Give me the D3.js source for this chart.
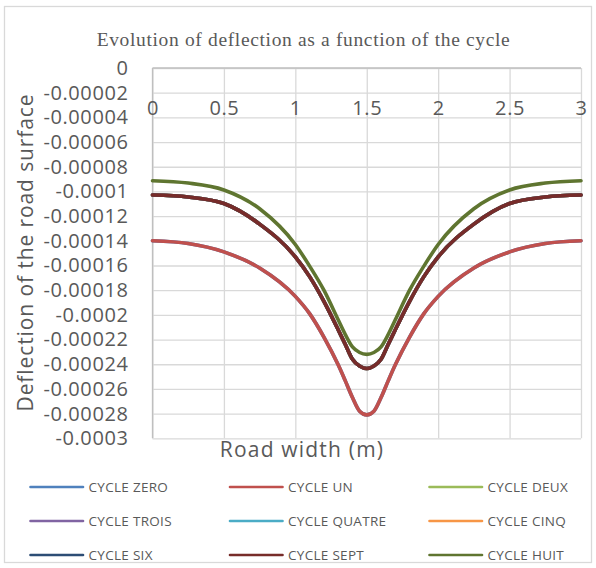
<!DOCTYPE html>
<html>
<head>
<meta charset="utf-8">
<script src="https://cdn.jsdelivr.net/npm/d3@7"></script>
<style>
  body { margin: 0; background: #fff; }
  svg { display: block; }
</style>
</head>
<body>
<svg id="chart" width="596" height="568"></svg>
<script>
// data (deflection in m, road width in m)
const widths = [0, 0.25, 0.5, 0.75, 1, 1.1, 1.2, 1.3, 1.35, 1.4, 1.45, 1.5, 1.55, 1.6, 1.65, 1.7, 1.8, 1.9, 2, 2.25, 2.5, 2.75, 3];

const cycleZero = [-0.00014, -0.0001422, -0.000149, -0.000162, -0.000185, -0.000199, -0.000218, -0.0002405, -0.0002535, -0.000267, -0.000278, -0.000281, -0.000278, -0.000267, -0.0002535, -0.0002405, -0.000218, -0.000199, -0.000185, -0.000162, -0.000149, -0.0001422, -0.00014];
const cycleUn = [-0.00014, -0.0001422, -0.000149, -0.000162, -0.000185, -0.000199, -0.000218, -0.0002405, -0.0002535, -0.000267, -0.000278, -0.000281, -0.000278, -0.000267, -0.0002535, -0.0002405, -0.000218, -0.000199, -0.000185, -0.000162, -0.000149, -0.0001422, -0.00014];
const cycleDeux = [-0.0001029, -0.0001045, -0.0001098, -0.0001265, -0.000153, -0.000169, -0.000189, -0.000212, -0.000224, -0.000236, -0.0002415, -0.0002435, -0.0002415, -0.000236, -0.000224, -0.000212, -0.000189, -0.000169, -0.000153, -0.0001265, -0.0001098, -0.0001045, -0.0001029];
const cycleTrois = [-0.0001029, -0.0001045, -0.0001098, -0.0001265, -0.000153, -0.000169, -0.000189, -0.000212, -0.000224, -0.000236, -0.0002415, -0.0002435, -0.0002415, -0.000236, -0.000224, -0.000212, -0.000189, -0.000169, -0.000153, -0.0001265, -0.0001098, -0.0001045, -0.0001029];
const cycleQuatre = [-0.0001029, -0.0001045, -0.0001098, -0.0001265, -0.000153, -0.000169, -0.000189, -0.000212, -0.000224, -0.000236, -0.0002415, -0.0002435, -0.0002415, -0.000236, -0.000224, -0.000212, -0.000189, -0.000169, -0.000153, -0.0001265, -0.0001098, -0.0001045, -0.0001029];
const cycleCinq = [-0.0001029, -0.0001045, -0.0001098, -0.0001265, -0.000153, -0.000169, -0.000189, -0.000212, -0.000224, -0.000236, -0.0002415, -0.0002435, -0.0002415, -0.000236, -0.000224, -0.000212, -0.000189, -0.000169, -0.000153, -0.0001265, -0.0001098, -0.0001045, -0.0001029];
const cycleSix = [-0.0001029, -0.0001045, -0.0001098, -0.0001265, -0.000153, -0.000169, -0.000189, -0.000212, -0.000224, -0.000236, -0.0002415, -0.0002435, -0.0002415, -0.000236, -0.000224, -0.000212, -0.000189, -0.000169, -0.000153, -0.0001265, -0.0001098, -0.0001045, -0.0001029];
const cycleSept = [-0.0001029, -0.0001045, -0.0001098, -0.0001265, -0.000153, -0.000169, -0.000189, -0.000212, -0.000224, -0.000236, -0.0002415, -0.0002435, -0.0002415, -0.000236, -0.000224, -0.000212, -0.000189, -0.000169, -0.000153, -0.0001265, -0.0001098, -0.0001045, -0.0001029];
const cycleHuit = [-0.0000913, -0.0000932, -0.0000988, -0.000114, -0.000143, -0.0001605, -0.00018, -0.000204, -0.000216, -0.000226, -0.0002305, -0.000232, -0.0002305, -0.000226, -0.000216, -0.000204, -0.00018, -0.0001605, -0.000143, -0.000114, -0.0000988, -0.0000932, -0.0000913];

const seriesNames = ["CYCLE ZERO", "CYCLE UN", "CYCLE DEUX", "CYCLE TROIS", "CYCLE QUATRE", "CYCLE CINQ", "CYCLE SIX", "CYCLE SEPT", "CYCLE HUIT"];
const seriesValues = [cycleZero, cycleUn, cycleDeux, cycleTrois, cycleQuatre, cycleCinq, cycleSix, cycleSept, cycleHuit];
const seriesColors = ["#4F81BD", "#C0504D", "#9BBB59", "#8064A2", "#4BACC6", "#F79646", "#2C4D75", "#772C2A", "#5F7530"];

const xTicks = [0, 0.5, 1, 1.5, 2, 2.5, 3];
const xTickLabels = ["0", "0.5", "1", "1.5", "2", "2.5", "3"];
const yTicks = [0, -0.00002, -0.00004, -0.00006, -0.00008, -0.0001, -0.00012, -0.00014, -0.00016, -0.00018, -0.0002, -0.00022, -0.00024, -0.00026, -0.00028, -0.0003];
const yTickLabels = ["0", "-0.00002", "-0.00004", "-0.00006", "-0.00008", "-0.0001", "-0.00012", "-0.00014", "-0.00016", "-0.00018", "-0.0002", "-0.00022", "-0.00024", "-0.00026", "-0.00028", "-0.0003"];

const titleText = "Evolution of deflection as a function of the cycle";
const xTitle = "Road width (m)";
const yTitle = "Deflection of the road surface";

// svg and plot area
const svg = d3.select("#chart");
const textColor = "#595959";
const gridColor = "#d9d9d9";
const axisFont = "'Open Sans', sans-serif";
const plot = { left: 152.5, right: 581, top: 68, bottom: 438.3 };

// outer chart border
svg.append("rect")
  .attr("x", 4.5).attr("y", 6.5)
  .attr("width", 587).attr("height", 556)
  .attr("fill", "#fff")
  .attr("stroke", gridColor)
  .attr("stroke-width", 1.3);

// scales
const xScale = d3.scaleLinear().domain([0, 3]).range([plot.left, plot.right]);
const yScale = d3.scaleLinear().domain([-0.0003, 0]).range([plot.bottom, plot.top]);

// gridlines
const xGrid = svg.append("g")
  .attr("transform", `translate(0,${plot.bottom})`)
  .call(d3.axisBottom(xScale).tickValues(xTicks).tickSize(-(plot.bottom - plot.top)).tickFormat(""));
const yGrid = svg.append("g")
  .attr("transform", `translate(${plot.left},0)`)
  .call(d3.axisLeft(yScale).tickValues(yTicks).tickSize(-(plot.right - plot.left)).tickFormat(""));
[xGrid, yGrid].forEach((g) => {
  g.select(".domain").remove();
  g.selectAll("line").attr("stroke", gridColor).attr("stroke-width", 1.3);
});

// axis lines: vertical at x=0, horizontal at y=0 (top)
svg.append("line")
  .attr("x1", xScale(0)).attr("x2", xScale(0))
  .attr("y1", yScale(0)).attr("y2", yScale(-0.0003))
  .attr("stroke", "#bfbfbf").attr("stroke-width", 1.3);
svg.append("line")
  .attr("x1", xScale(0)).attr("x2", xScale(3))
  .attr("y1", yScale(0)).attr("y2", yScale(0))
  .attr("stroke", "#bfbfbf").attr("stroke-width", 1.3);

// y tick labels
const yAxis = svg.append("g")
  .attr("transform", `translate(${plot.left},0)`)
  .call(d3.axisLeft(yScale).tickValues(yTicks).tickSize(0).tickPadding(24)
    .tickFormat((d, i) => yTickLabels[i]));
yAxis.select(".domain").remove();
yAxis.selectAll("text")
  .attr("fill", textColor)
  .style("font-family", axisFont)
  .style("font-size", "20px")
  .style("letter-spacing", "0.6px");

// x tick labels, placed below the top axis line
const xAxis = svg.append("g")
  .attr("transform", `translate(0,${yScale(0)})`)
  .call(d3.axisBottom(xScale).tickValues(xTicks).tickSize(0)
    .tickFormat((d, i) => xTickLabels[i]));
xAxis.select(".domain").remove();
xAxis.selectAll("text")
  .attr("y", 47).attr("dy", 0)
  .attr("fill", textColor)
  .style("font-family", axisFont)
  .style("font-size", "20px")
  .style("letter-spacing", "0.6px");

// lines
const line = d3.line()
  .x((d) => xScale(d[0]))
  .y((d) => yScale(d[1]))
  .curve(d3.curveMonotoneX);

svg.append("g")
  .selectAll("path")
  .data(seriesValues)
  .join("path")
  .attr("d", (vals) => line(widths.map((w, i) => [w, vals[i]])))
  .attr("fill", "none")
  .attr("stroke", (d, i) => seriesColors[i])
  .attr("stroke-width", 3.6)
  .attr("stroke-linecap", "round");

// title
svg.append("text")
  .attr("x", 303.5).attr("y", 46)
  .attr("text-anchor", "middle")
  .attr("fill", textColor)
  .style("font-family", "'Liberation Serif', 'Times New Roman', serif")
  .style("font-size", "19.5px")
  .style("letter-spacing", "0.65px")
  .text(titleText);

// axis titles
svg.append("text")
  .attr("x", 302).attr("y", 457)
  .attr("text-anchor", "middle")
  .attr("fill", textColor)
  .style("font-family", axisFont)
  .style("font-size", "21px")
  .style("letter-spacing", "1.2px")
  .text(xTitle);

svg.append("text")
  .attr("transform", `translate(33,252.5) rotate(-90)`)
  .attr("text-anchor", "middle")
  .attr("fill", textColor)
  .style("font-family", axisFont)
  .style("font-size", "21px")
  .style("letter-spacing", "0.9px")
  .text(yTitle);

// legend, 3 columns
const legendCols = [30.5, 230, 429.5];
const legendRows = [487, 521, 555];
const legend = svg.append("g")
  .selectAll("g")
  .data(seriesNames)
  .join("g")
  .attr("transform", (d, i) => `translate(${legendCols[i % 3]},${legendRows[Math.floor(i / 3)]})`);

legend.append("line")
  .attr("x1", 0).attr("x2", 52.5)
  .attr("y1", 0).attr("y2", 0)
  .attr("stroke", (d, i) => seriesColors[i])
  .attr("stroke-width", 2.6)
  .attr("stroke-linecap", "round");

legend.append("text")
  .attr("x", 58).attr("y", 0)
  .attr("dy", "0.36em")
  .attr("fill", textColor)
  .style("font-family", axisFont)
  .style("font-size", "13.5px")
  .style("letter-spacing", "0.3px")
  .text((d) => d);
</script>
</body>
</html>
